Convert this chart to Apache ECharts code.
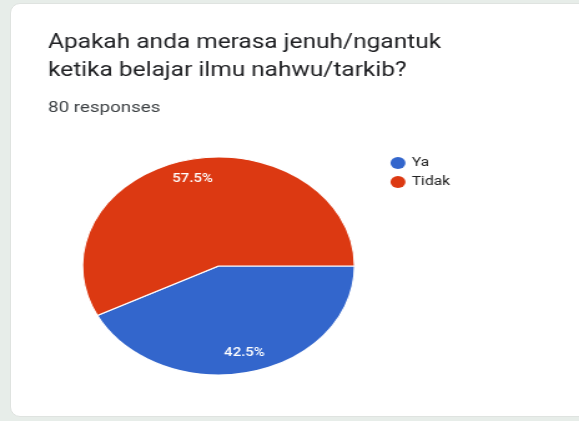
<!DOCTYPE html>
<html>
<head>
<meta charset="utf-8">
<script src="https://cdn.jsdelivr.net/npm/echarts@6/dist/echarts.min.js"></script>
<style>
html,body{margin:0;padding:0;width:579px;height:421px;overflow:hidden;background:#e7ede9;}
#card{position:absolute;left:10px;top:3px;width:580px;height:414px;background:#fff;border:1px solid #dfe3e0;border-radius:10px;box-sizing:border-box;}
#main{position:absolute;left:0;top:0;width:464px;height:421px;transform:scaleX(1.248);transform-origin:0 0;}
</style>
</head>
<body>
<div id="card"></div>
<div id="main"></div>
<script>
const titleText = 'Apakah anda merasa jenuh/ngantuk\nketika belajar ilmu nahwu/tarkib?';
const subtitleText = '80 responses';
const categories = ['Ya', 'Tidak'];
const percentages = [42.5, 57.5];
const colors = ['#3366cc', '#dc3912'];

const pieData = categories.map((c, i) => ({ name: c, value: percentages[i] }));

const main = echarts.init(document.getElementById('main'), null, { renderer: 'canvas' });
main.setOption({
  animation: false,
  backgroundColor: 'transparent',
  color: colors,
  title: [
    { text: titleText, left: 38.5, top: 29, padding: 0,
      textStyle: { fontFamily: 'Roboto', fontSize: 19.6, fontWeight: 'normal', color: '#202124', lineHeight: 28 } },
    { text: subtitleText, left: 38.5, top: 101, padding: 0,
      textStyle: { fontFamily: 'Roboto', fontSize: 15, fontWeight: 'normal', color: '#3c4043' } }
  ],
  legend: {
    orient: 'vertical',
    left: 312.9,
    top: 155.5,
    padding: 0,
    icon: 'circle',
    itemWidth: 12,
    itemHeight: 12,
    itemGap: 4,
    itemStyle: { borderWidth: 0 },
    textStyle: { fontFamily: 'Roboto', fontSize: 12.5, color: '#222222', lineHeight: 15 },
    data: categories.map((c, i) => ({ name: c, itemStyle: { color: colors[i], borderWidth: 0 } }))
  },
  series: [
    {
      type: 'pie',
      center: [175.1, 266],
      radius: 109,
      startAngle: 0,
      clockwise: true,
      label: { show: false },
      labelLine: { show: false },
      itemStyle: { borderColor: '#ffffff', borderWidth: 1.2 },
      emphasis: { disabled: true },
      data: pieData
    },
    {
      type: 'pie',
      center: [175.1, 266],
      radius: [72, 100],
      startAngle: 0,
      clockwise: true,
      silent: true,
      itemStyle: { color: 'rgba(0,0,0,0)' },
      emphasis: { disabled: true },
      label: {
        show: true,
        position: 'inside',
        formatter: '{c}%',
        fontFamily: 'Roboto',
        fontSize: 12,
        fontWeight: 500,
        color: '#ffffff'
      },
      labelLine: { show: false },
      data: pieData
    }
  ]
});
</script>
</body>
</html>
